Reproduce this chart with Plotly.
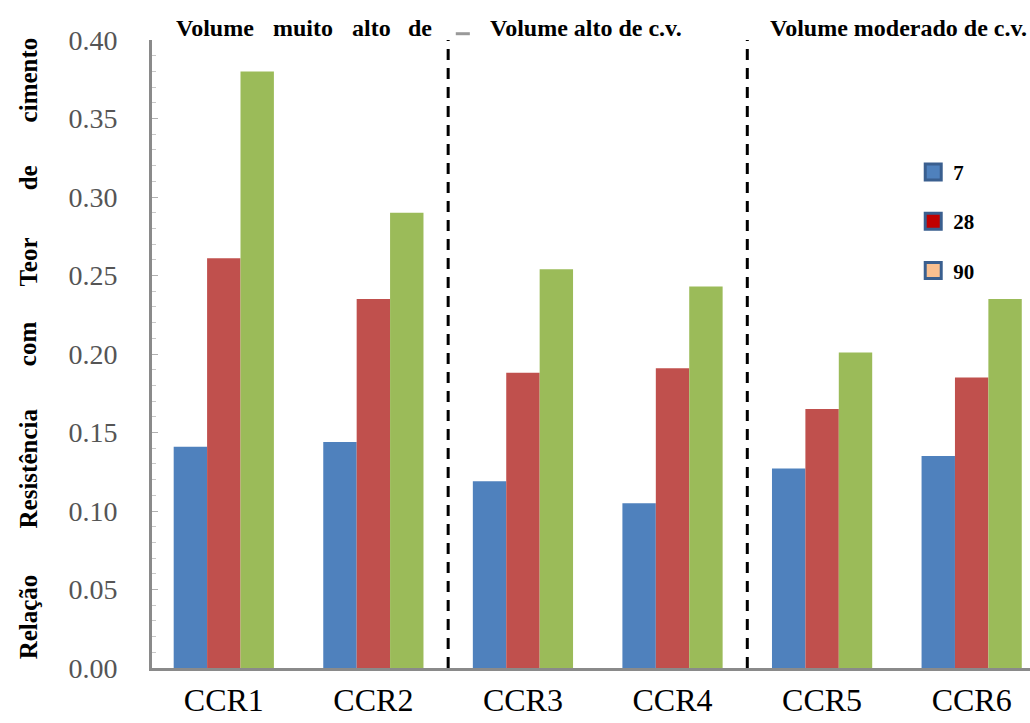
import plotly.graph_objects as go

# Mixtures and ages (days)
categories = ["CCR1", "CCR2", "CCR3", "CCR4", "CCR5", "CCR6"]
ages = ["7", "28", "90"]

# Strength / cement content ratio per mixture, by age
ratio_7 = [0.141, 0.144, 0.119, 0.105, 0.127, 0.135]
ratio_28 = [0.261, 0.235, 0.188, 0.191, 0.165, 0.185]
ratio_90 = [0.380, 0.290, 0.254, 0.243, 0.201, 0.235]

y_ticks = [0.00, 0.05, 0.10, 0.15, 0.20, 0.25, 0.30, 0.35, 0.40]

# Group headers (fly-ash volume)
group_labels = ["Volume alto de c.v.", "Volume moderado de c.v."]
group_first_words = ["Volume", "muito", "alto", "de"]
title_words = ["Relação", "Resistência", "com", "Teor", "de", "cimento"]

bar_colors = ["#4f81bd", "#c0504d", "#9bbb59"]
legend_fill = ["#4f81bd", "#c00000", "#fac090"]
SERIF = "Liberation Serif"

x_idx = list(range(len(categories)))
fig = go.Figure()
for vals, col, age in zip([ratio_7, ratio_28, ratio_90], bar_colors, ages):
    fig.add_trace(go.Bar(x=x_idx, y=vals, name=age, marker_color=col,
                         marker_line_width=0, showlegend=False))

# Legend entries
for age, fill in zip(ages, legend_fill):
    fig.add_trace(go.Scatter(x=[None], y=[None], mode="markers", name=age,
                             legendgroup=age,
                             marker=dict(symbol="square", size=16, color=fill,
                                         line=dict(color="#3a5f8f", width=3))))

# Dashed separators between groups
for xs in [1.5, 3.5]:
    fig.add_shape(type="line", x0=xs, x1=xs, y0=0, y1=0.4, xref="x", yref="y",
                  line=dict(color="black", width=3, dash="11px,8px"))
fig.add_shape(type="line", x0=0.346, x1=0.362, y0=1.01, y1=1.01,
              xref="paper", yref="paper", line=dict(color="#999999", width=3))

# Vertical axis title, one word at a time
title_y = [0.081, 0.318, 0.516, 0.646, 0.780, 0.936]
for w, yy in zip(title_words, title_y):
    fig.add_annotation(text=w, x=-0.141, y=yy, xref="paper", yref="paper",
                       textangle=-90, showarrow=False, xanchor="center", yanchor="middle",
                       font=dict(family=SERIF, size=25, color="black", weight="bold"))

# Group headers
first_x = [0.072, 0.172, 0.250, 0.305]
for w, xx in zip(group_first_words, first_x):
    fig.add_annotation(text=w, x=xx, y=1.019, xref="paper", yref="paper",
                       showarrow=False, xanchor="center", yanchor="middle",
                       font=dict(family=SERIF, size=24, color="black", weight="bold"))
for lab, xx in zip(group_labels, [0.494, 0.850]):
    fig.add_annotation(text=lab, x=xx, y=1.019, xref="paper", yref="paper",
                       showarrow=False, xanchor="center", yanchor="middle",
                       font=dict(family=SERIF, size=24, color="black", weight="bold"))

fig.update_layout(
    width=1030, height=723,
    margin=dict(l=152, r=0, t=40, b=55),
    plot_bgcolor="white", paper_bgcolor="white",
    barmode="group", bargap=0.33, bargroupgap=0,
    font=dict(family=SERIF),
    showlegend=True,
    legend=dict(x=0.867, y=0.822, xanchor="left", yanchor="top",
                bgcolor="rgba(0,0,0,0)", tracegroupgap=19,
                font=dict(family=SERIF, size=21, color="black", weight="bold")),
    xaxis=dict(range=[-0.48, 5.39], tickvals=x_idx, ticktext=categories,
               automargin=False,
               showgrid=False, zeroline=False, showline=True,
               linecolor="#8a8a8a", linewidth=3, ticks="", ticklabelstandoff=2,
               tickfont=dict(family=SERIF, size=32, color="black")),
    yaxis=dict(range=[0, 0.4], tickvals=y_ticks,
               ticktext=[f"{v:.2f}" for v in y_ticks],
               automargin=False,
               showgrid=False, zeroline=False, showline=True,
               linecolor="#8a8a8a", linewidth=3,
               ticks="inside", ticklen=6, tickcolor="#b0b0b0", tickwidth=1,
               minor=dict(dtick=0.01, ticks="inside", ticklen=4, tickcolor="#c8c8c8"),
               ticklabelstandoff=26,
               tickfont=dict(family=SERIF, size=28, color="#555555")),
)

fig.write_html("out.html")
